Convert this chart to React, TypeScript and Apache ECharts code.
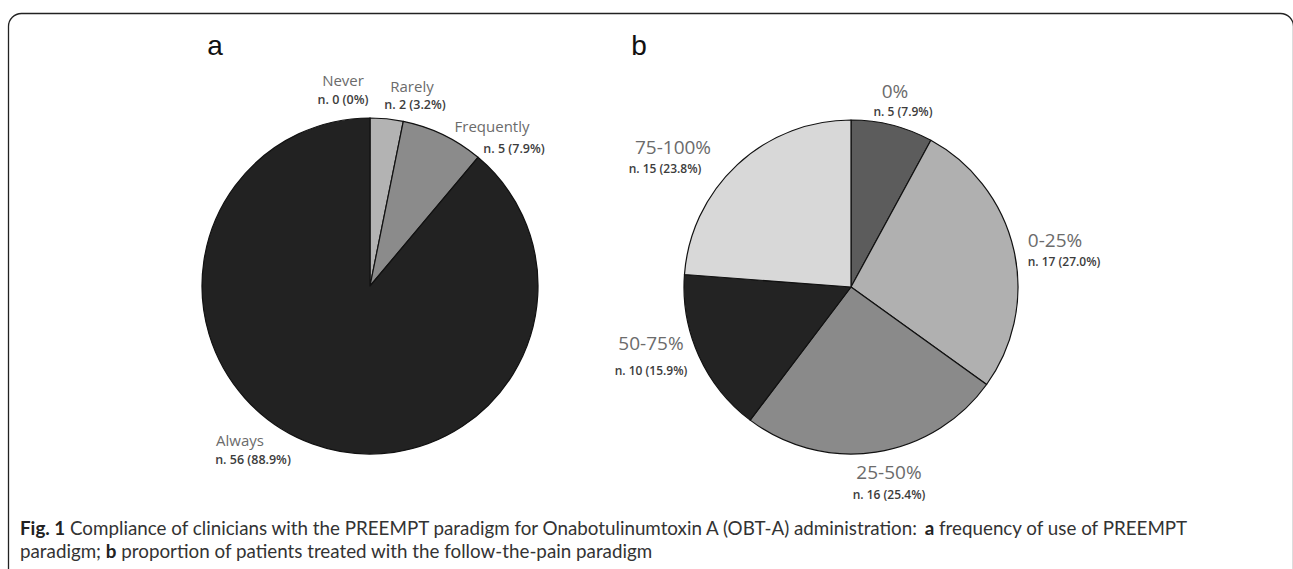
import React, { useEffect, useRef } from "react";
import * as echarts from "echarts";

// ---- data ----
const panelTitles = ["a", "b"];

const freqNames = ["Never", "Rarely", "Frequently", "Always"];
const freqCounts = [0, 2, 5, 56];
const freqPercents = ["0%", "3.2%", "7.9%", "88.9%"];

const propNames = ["0%", "0-25%", "25-50%", "50-75%", "75-100%"];
const propCounts = [5, 17, 16, 10, 15];
const propPercents = ["7.9%", "27.0%", "25.4%", "15.9%", "23.8%"];

const captionLine1Bold = "Fig. 1";
const captionLine1 =
  " Compliance of clinicians with the PREEMPT paradigm for Onabotulinumtoxin A (OBT-A) administration: ";
const captionLine1b = "a";
const captionLine1End = " frequency of use of PREEMPT";
const captionLine2a = "paradigm; ";
const captionLine2b = "b";
const captionLine2End = " proportion of patients treated with the follow-the-pain paradigm";

// ---- layout / style (not data) ----
const freqColors = ["#9a9a9a", "#b3b3b3", "#8b8b8b", "#222222"];
const propColors = ["#5c5c5c", "#b0b0b0", "#8a8a8a", "#232323", "#d8d8d8"];
const freqNamePos = [[343, 80], [412, 86], [492, 126], [240, 440]];
const freqSubPos = [[343, 99], [415, 104], [514, 148], [253, 459]];
const propNamePos = [[895, 91], [1055, 240], [889, 472], [651, 343], [673, 147]];
const propSubPos = [[903, 111], [1064, 261], [889, 494], [651, 370], [665, 168]];

const FONT = "'Open Sans', 'Noto Sans', sans-serif";
const CAP = 18.8;

export default function App() {
  const ref = useRef<HTMLDivElement>(null);
  useEffect(() => {
    if (!ref.current) return;
    const chart = echarts.init(ref.current, undefined, { renderer: "svg" });

    const labelTexts: any[] = [];
    const addLabels = (
      names: string[],
      counts: number[],
      pcts: string[],
      namePos: number[][],
      subPos: number[][],
      nameSize: number,
      subSize: number
    ) => {
      names.forEach((n, i) => {
        labelTexts.push({
          type: "text",
          x: namePos[i][0],
          y: namePos[i][1],
          style: {
            text: n,
            fill: "#6b6b6b",
            font: `${nameSize}px ${FONT}`,
            align: "center",
            verticalAlign: "middle",
          },
        });
        labelTexts.push({
          type: "text",
          x: subPos[i][0],
          y: subPos[i][1],
          style: {
            text: `n. ${counts[i]} (${pcts[i]})`,
            fill: "#3c3c3c",
            font: `600 ${subSize}px ${FONT}`,
            align: "center",
            verticalAlign: "middle",
          },
        });
      });
    };
    addLabels(freqNames, freqCounts, freqPercents, freqNamePos, freqSubPos, 15, 12.5);
    addLabels(propNames, propCounts, propPercents, propNamePos, propSubPos, 19, 12);

    chart.setOption({
      animation: false,
      backgroundColor: "#ffffff",
      graphic: [
        {
          type: "rect",
          shape: { x: 8.5, y: 13.5, width: 1285, height: 700, r: 13 },
          style: { fill: "none", stroke: "#222", lineWidth: 1.3 },
          silent: true,
        },
        {
          type: "text",
          x: 215,
          y: 45,
          style: {
            text: panelTitles[0],
            font: "28px 'Liberation Sans', sans-serif",
            fill: "#111",
            align: "center",
            verticalAlign: "middle",
          },
        },
        {
          type: "text",
          x: 639,
          y: 45,
          style: {
            text: panelTitles[1],
            font: "28px 'Liberation Sans', sans-serif",
            fill: "#111",
            align: "center",
            verticalAlign: "middle",
          },
        },
        ...labelTexts,
        {
          type: "text",
          x: 20,
          y: 527,
          style: {
            text: `{b|${captionLine1Bold}}{r|${captionLine1}}{b|${captionLine1b}}{r|${captionLine1End}}`,
            verticalAlign: "middle",
            rich: {
              b: { font: `bold ${CAP}px Lato, sans-serif`, fill: "#222" },
              r: { font: `${CAP}px Lato, sans-serif`, fill: "#333" },
            },
          },
        },
        {
          type: "text",
          x: 20,
          y: 550,
          style: {
            text: `{r|${captionLine2a}}{b|${captionLine2b}}{r|${captionLine2End}}`,
            verticalAlign: "middle",
            rich: {
              b: { font: `bold ${CAP}px Lato, sans-serif`, fill: "#222" },
              r: { font: `${CAP}px Lato, sans-serif`, fill: "#333" },
            },
          },
        },
      ],
      series: [
        {
          type: "pie",
          center: [370, 286],
          radius: 168,
          startAngle: 90,
          clockwise: true,
          label: { show: false },
          labelLine: { show: false },
          emphasis: { disabled: true },
          itemStyle: { borderColor: "#111", borderWidth: 1.2 },
          data: freqNames.map((n, i) => ({
            name: n,
            value: freqCounts[i],
            itemStyle: { color: freqColors[i] },
          })),
        },
        {
          type: "pie",
          center: [851, 287],
          radius: 167,
          startAngle: 90,
          clockwise: true,
          label: { show: false },
          labelLine: { show: false },
          emphasis: { disabled: true },
          itemStyle: { borderColor: "#111", borderWidth: 1.2 },
          data: propNames.map((n, i) => ({
            name: n,
            value: propCounts[i],
            itemStyle: { color: propColors[i] },
          })),
        },
      ],
    });
    return () => chart.dispose();
  }, []);
  return (
    <div
      ref={ref}
      style={{ position: "fixed", left: 0, top: 0, width: 1293, height: 569 }}
    />
  );
}
